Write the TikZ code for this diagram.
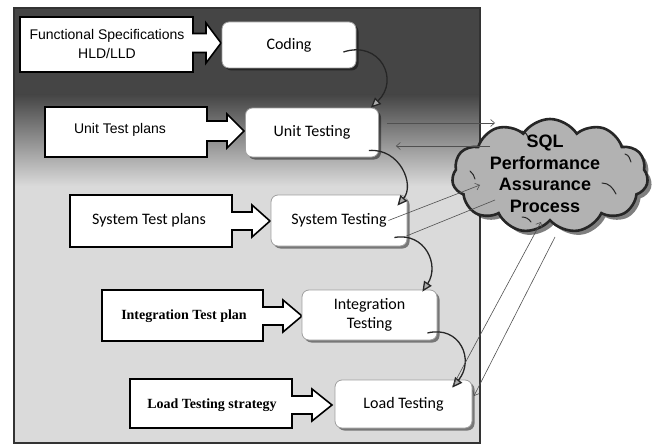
\documentclass[tikz,border=0pt]{standalone}
\usepackage{fontspec}
\setmainfont{Carlito}
\newfontfamily\arialf{Liberation Sans}
\newfontfamily\carlitof{Carlito}
\newfontfamily\timesf{Liberation Serif}
\usetikzlibrary{arrows.meta,shadows,shapes.symbols}

\definecolor{panelDark}{HTML}{454545}
\definecolor{panelLight}{HTML}{DADADA}
\definecolor{panelEdge}{HTML}{333333}
\definecolor{cloudFill}{HTML}{B2B2B2}
\definecolor{inkDark}{HTML}{262626}
\definecolor{thinLine}{HTML}{505050}

\tikzset{
  stage/.style={draw=gray!75, fill=white, rounded corners=7pt, line width=0.8pt,
    drop shadow={shadow xshift=2.5pt, shadow yshift=-2.5pt, opacity=0.45, fill=black},
    font=\carlitof\fontsize{16}{19}\selectfont, align=center, inner sep=0pt},
  inbox/.style={draw=black, fill=white, line width=1.6pt, line join=miter},
  intext/.style={inner sep=0pt, align=center},
  flow/.style={draw=inkDark, line width=1.3pt,
    -{Triangle[length=10pt,width=9pt,fill=gray!65]}},
  link/.style={draw=thinLine, line width=0.6pt},
  linkarrow/.style={link, -{Straight Barb[length=4pt,width=7pt]}},
  puffline/.style={draw=inkDark, line width=1pt, line cap=round},
}

% plan box with a block arrow: left, top, right, bottom, arrow axis,
% shaft length, head length, shaft half height, head half height
\newcommand\planbox[9]{%
  \draw[inbox] (#1,#2) -- (#3,#2) -- (#3,{#5-#8}) -- ({#3+#6},{#5-#8})
    -- ({#3+#6},{#5-#9}) -- ({#3+#6+#7},#5) -- ({#3+#6},{#5+#9})
    -- ({#3+#6},{#5+#8}) -- (#3,{#5+#8}) -- (#3,#4) -- (#1,#4) -- cycle;}

\begin{document}
\begin{tikzpicture}[x=1pt,y=-1pt]
\useasboundingbox (0,0) rectangle (656,444);

% background panel
\fill[panelDark] (14,8) rectangle (480,95);
\shade[top color=panelDark, bottom color=panelLight] (14,94.5) rectangle (480,186);
\fill[panelLight] (14,185.5) rectangle (480,443);
\draw[panelEdge, line width=2pt] (14,8) rectangle (480,443);

% plan boxes
\planbox{20}{17}{193}{72}{43}{13}{15}{9.5}{20}
\planbox{45}{107}{207}{157}{131}{20}{17}{10}{17}
\planbox{70}{195}{232}{247}{221}{20}{18}{9}{16}
\planbox{102}{290}{263}{341}{316}{20}{19}{9}{16}
\planbox{130}{379}{292}{428}{405}{20}{20}{9}{16}

\node[intext, font=\arialf\fontsize{14}{19}\selectfont] (fspec) at (107,44) {Functional Specifications\\HLD/LLD};
\node[intext, font=\arialf\fontsize{14}{17}\selectfont] (utp) at (120,130) {Unit Test plans};
\node[intext, font=\carlitof\fontsize{16}{19}\selectfont] (stp) at (149,220) {System Test plans};
\node[intext, font=\timesf\bfseries\fontsize{14}{17}\selectfont] (itp) at (184,316) {Integration Test plan};
\node[intext, font=\timesf\bfseries\fontsize{14}{17}\selectfont] (lts) at (212,405) {Load Testing strategy};

% stages
\node[stage, minimum width=134pt, minimum height=46pt] (coding) at (289,45) {Coding};
\node[stage, minimum width=133pt, minimum height=49pt] (unit) at (312,132.5) {Unit Testing};
\node[stage, minimum width=136pt, minimum height=51pt] (system) at (339,220.5) {System Testing};
\node[stage, minimum width=135pt, minimum height=50pt] (integ) at (369.5,315) {Integration\\Testing};
\node[stage, minimum width=137pt, minimum height=48pt] (load) at (403.5,404) {Load Testing};

% SQL cloud
\node[cloud, cloud puffs=11, cloud puff arc=115, aspect=1.75, inner sep=0pt,
  minimum width=196pt, minimum height=114pt,
  fill=cloudFill, draw=inkDark, line width=2.6pt,
  drop shadow={shadow xshift=4pt, shadow yshift=-4pt, opacity=0.5, fill=black}]
  (sqlcloud) at (550,176) {};
% inner puff creases
\draw[puffline] ([shift={(-28,-45)}]sqlcloud.center) .. controls +(4,1) and +(-2,-4) .. +(7,8);
\draw[puffline] ([shift={(52,7)}]sqlcloud.center) .. controls +(7,0) and +(-3,-6) .. +(14,11);
\draw[puffline] ([shift={(-28,41)}]sqlcloud.center) .. controls +(4,0) and +(-2,-3) .. +(9,5);
\draw[puffline] ([shift={(-80,-5)}]sqlcloud.center) .. controls +(3,2) and +(-1,-3) .. +(5,8);
\draw[puffline] ([shift={(75,-22)}]sqlcloud.center) .. controls +(4,1) and +(-1,-3) .. +(6,8);
\node[intext, font=\arialf\bfseries\fontsize{18}{21.5}\selectfont] (sqltext) at (545,174) {SQL\\Performance\\Assurance\\Process};

% flow between stages
\draw[flow] ([shift={(-13,7)}]coding.east) .. controls (380,40) and (400,80) .. ([shift={(-8,0)}]unit.north east);
\draw[flow] ([shift={(-10,18)}]unit.east) .. controls (400,148) and (415,185) .. ([shift={(-10,11)}]system.north east);
\draw[flow] ([shift={(-13,17)}]system.east) .. controls (425,232) and (440,265) .. ([shift={(-15,2)}]integ.north east);
\draw[flow] ([shift={(-10,18)}]integ.east) .. controls (460,325) and (475,360) .. ([shift={(-20,8)}]load.north east);

% links with the SQL process
\draw[linkarrow] ([shift={(8,-9.5)}]unit.east) -- ([shift={(-55,-53)}]sqlcloud.center);
\draw[linkarrow] ([shift={(-60,-30)}]sqlcloud.center) -- ([shift={(17,13.5)}]unit.east);
\draw[linkarrow] ([shift={(-19,0)}]system.east) -- ([shift={(-70,9)}]sqlcloud.center);
\draw[link] ([shift={(-55,24)}]sqlcloud.center) -- ([shift={(-1,15.5)}]system.east);
\draw[linkarrow] ([shift={(-20,7)}]load.north east) -- ([shift={(-9,46)}]sqlcloud.center);
\draw[linkarrow] ([shift={(5,61)}]sqlcloud.center) -- ([shift={(1.5,-8)}]load.east);
\end{tikzpicture}
\end{document}
